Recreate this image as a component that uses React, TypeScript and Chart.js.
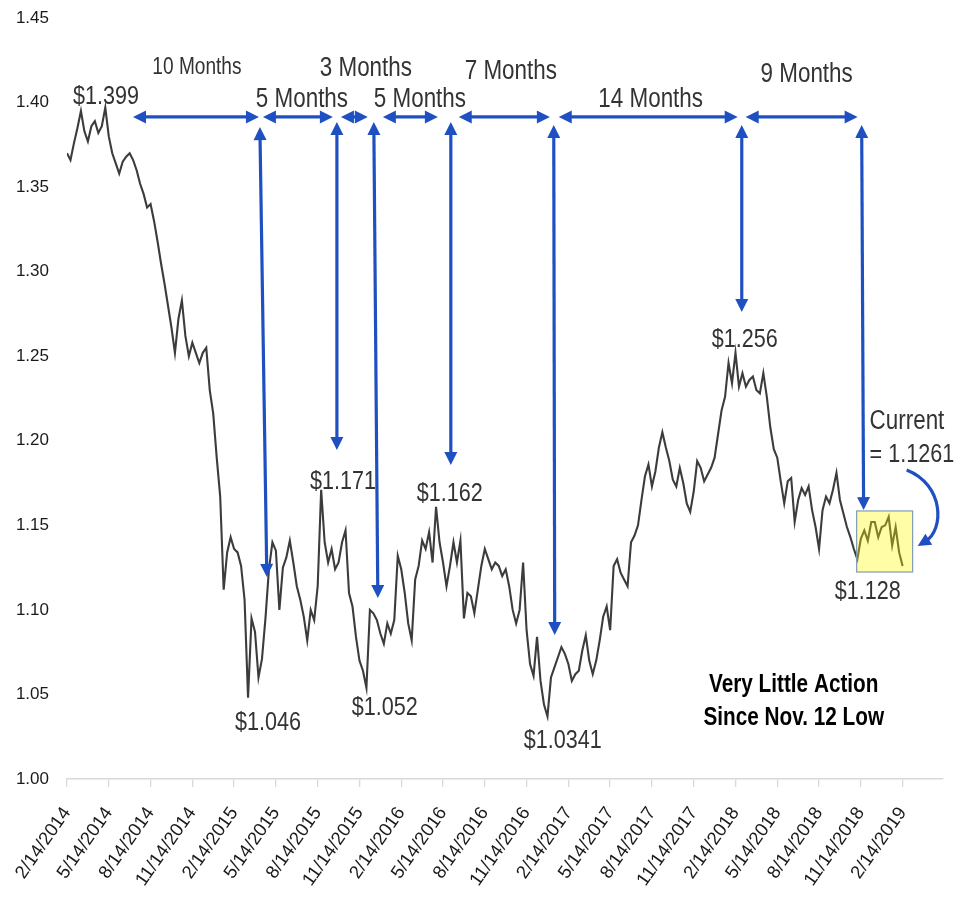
import { useEffect, useRef } from 'react';
import { Chart, registerables } from 'chart.js';

Chart.register(...registerables);

// X tick labels (every 3 months, starting 2/14/2014)
const tickLabels = [
  '2/14/2014', '5/14/2014', '8/14/2014', '11/14/2014',
  '2/14/2015', '5/14/2015', '8/14/2015', '11/14/2015',
  '2/14/2016', '5/14/2016', '8/14/2016', '11/14/2016',
  '2/14/2017', '5/14/2017', '8/14/2017', '11/14/2017',
  '2/14/2018', '5/14/2018', '8/14/2018', '11/14/2018',
  '2/14/2019',
];
const monthsPerTick = 3;
const samplesPerMonth = 4; // roughly weekly readings

// EUR/USD weekly readings from 2/14/2014 to 2/14/2019
const eurusd = [
  1.370, 1.366, 1.376, 1.385,
  1.395, 1.383, 1.377, 1.386,
  1.389, 1.382, 1.386, 1.397,
  1.380, 1.370, 1.364, 1.358,
  1.365, 1.368, 1.370, 1.366,
  1.360, 1.352, 1.346, 1.338,
  1.340, 1.330, 1.318, 1.305,
  1.293, 1.280, 1.267, 1.252,
  1.272, 1.283, 1.262, 1.250,
  1.258, 1.252, 1.246, 1.252,
  1.255, 1.230, 1.216, 1.190,
  1.167, 1.112, 1.134, 1.143,
  1.136, 1.134, 1.126, 1.106,
  1.048, 1.095, 1.087, 1.060,
  1.071, 1.095, 1.124, 1.140,
  1.135, 1.100, 1.125, 1.131,
  1.141, 1.128, 1.114, 1.106,
  1.096, 1.082, 1.100, 1.094,
  1.114, 1.171, 1.140, 1.128,
  1.136, 1.124, 1.128, 1.140,
  1.147, 1.110, 1.102, 1.084,
  1.070, 1.064, 1.054, 1.100,
  1.098, 1.094, 1.086, 1.080,
  1.092, 1.086, 1.094, 1.132,
  1.124, 1.110, 1.092, 1.082,
  1.118, 1.126, 1.141, 1.136,
  1.146, 1.128, 1.161, 1.140,
  1.128, 1.114, 1.126, 1.140,
  1.128, 1.141, 1.095, 1.110,
  1.108, 1.098, 1.112, 1.126,
  1.136, 1.130, 1.124, 1.128,
  1.126, 1.120, 1.124, 1.114,
  1.100, 1.092, 1.100, 1.128,
  1.088, 1.068, 1.061, 1.084,
  1.058, 1.044, 1.037, 1.060,
  1.066, 1.072, 1.078, 1.074,
  1.068, 1.058, 1.062, 1.064,
  1.076, 1.085, 1.070, 1.062,
  1.070, 1.082, 1.096, 1.102,
  1.088, 1.126, 1.130, 1.122,
  1.118, 1.114, 1.140, 1.144,
  1.150, 1.165, 1.179, 1.186,
  1.173, 1.182, 1.196, 1.205,
  1.196, 1.188, 1.177, 1.173,
  1.184, 1.175, 1.163, 1.158,
  1.170, 1.188, 1.184, 1.176,
  1.180, 1.184, 1.190, 1.204,
  1.218, 1.226, 1.246, 1.234,
  1.252, 1.232, 1.240, 1.232,
  1.236, 1.238, 1.230, 1.228,
  1.240, 1.226, 1.208, 1.195,
  1.190, 1.176, 1.163, 1.176,
  1.178, 1.152, 1.165, 1.172,
  1.168, 1.173, 1.159, 1.149,
  1.136, 1.159, 1.167, 1.163,
  1.171, 1.181, 1.165, 1.157,
  1.149, 1.143, 1.136, 1.130,
  1.142, 1.147, 1.141, 1.152,
  1.152, 1.143, 1.149, 1.150,
  1.155, 1.138, 1.149, 1.134,
  1.126,
];

const yTicks = [1.0, 1.05, 1.1, 1.15, 1.2, 1.25, 1.3, 1.35, 1.4, 1.45];

// ---- annotation layout (in data units: months since 2/14/2014, rate) ----
const blue = '#1f50c2';
const hArrowLevel = 1.3915;
const hArrows: [number, number][] = [
  [4.74, 13.78], [14.07, 19.09], [19.67, 21.6], [22.68, 26.63],
  [28.13, 34.67], [35.31, 48.16], [48.73, 56.77],
];
const vArrows: [number, number, number, number][] = [
  [13.85, 1.3855, 14.35, 1.1195],
  [19.38, 1.3885, 19.38, 1.1946],
  [22.03, 1.3885, 22.32, 1.107],
  [27.56, 1.3885, 27.56, 1.1857],
  [34.95, 1.3867, 35.02, 1.0852],
  [48.45, 1.3867, 48.45, 1.2762],
  [57.06, 1.3867, 57.2, 1.159],
];
type Lbl = { t: string; m: number; v: number; size: number; bold?: boolean; align?: CanvasTextAlign };
const labels: Lbl[] = [
  { t: '10 Months', m: 9.33, v: 1.4204, size: 23 },
  { t: '$1.399', m: 2.8, v: 1.4033, size: 26 },
  { t: '5 Months', m: 16.87, v: 1.4015, size: 27 },
  { t: '3 Months', m: 21.46, v: 1.4204, size: 27 },
  { t: '5 Months', m: 25.34, v: 1.4015, size: 27 },
  { t: '7 Months', m: 31.87, v: 1.4181, size: 27 },
  { t: '14 Months', m: 41.91, v: 1.4015, size: 27 },
  { t: '9 Months', m: 53.11, v: 1.4163, size: 27 },
  { t: '$1.256', m: 48.66, v: 1.2596, size: 26 },
  { t: '$1.171', m: 19.81, v: 1.1756, size: 26 },
  { t: '$1.162', m: 27.49, v: 1.1685, size: 26 },
  { t: '$1.046', m: 14.43, v: 1.0331, size: 26 },
  { t: '$1.052', m: 22.82, v: 1.042, size: 26 },
  { t: '$1.0341', m: 35.6, v: 1.0225, size: 26 },
  { t: '$1.128', m: 57.49, v: 1.1106, size: 26 },
  { t: 'Current', m: 57.63, v: 1.2111, size: 27, align: 'left' },
  { t: '= 1.1261', m: 57.63, v: 1.1916, size: 26, align: 'left' },
  { t: 'Very Little Action', m: 52.18, v: 1.0556, size: 25, bold: true },
  { t: 'Since Nov. 12 Low', m: 52.18, v: 1.0361, size: 25, bold: true },
];
const box = { m0: 56.7, m1: 60.72, v0: 1.1585, v1: 1.1224 };
const curve = { m0: 60.29, v0: 1.1827, c1m: 63.0, c1v: 1.1739, c2m: 63.0, c2v: 1.1473, m1: 61.08, v1: 1.1378 };

const textFont = '"Liberation Sans", Arial, sans-serif';
const condense = 0.83;

function head(ctx: CanvasRenderingContext2D, tx: number, ty: number, ang: number, len = 13, half = 6.5) {
  ctx.beginPath();
  ctx.moveTo(tx, ty);
  ctx.lineTo(tx - len * Math.cos(ang) + half * Math.sin(ang), ty - len * Math.sin(ang) - half * Math.cos(ang));
  ctx.lineTo(tx - len * Math.cos(ang) - half * Math.sin(ang), ty - len * Math.sin(ang) + half * Math.cos(ang));
  ctx.closePath();
  ctx.fill();
}

function dblArrow(ctx: CanvasRenderingContext2D, x1: number, y1: number, x2: number, y2: number) {
  const ang = Math.atan2(y2 - y1, x2 - x1);
  const len = 13;
  ctx.beginPath();
  ctx.moveTo(x1 + len * 0.8 * Math.cos(ang), y1 + len * 0.8 * Math.sin(ang));
  ctx.lineTo(x2 - len * 0.8 * Math.cos(ang), y2 - len * 0.8 * Math.sin(ang));
  ctx.stroke();
  head(ctx, x2, y2, ang, len);
  head(ctx, x1, y1, ang + Math.PI, len);
}

const annotPlugin = {
  id: 'annot',
  afterDatasetsDraw(chart: any) {
    const { ctx, scales } = chart;
    const X = (m: number) => scales.x.getPixelForValue(m);
    const Y = (v: number) => scales.y.getPixelForValue(v);
    ctx.save();
    // highlight box
    const bx = X(box.m0), by = Y(box.v0), bw = X(box.m1) - bx, bh = Y(box.v1) - by;
    ctx.fillStyle = 'rgba(255, 248, 0, 0.35)';
    ctx.fillRect(bx, by, bw, bh);
    ctx.strokeStyle = '#7d9bb8';
    ctx.lineWidth = 1.2;
    ctx.strokeRect(bx, by, bw, bh);

    ctx.strokeStyle = blue;
    ctx.fillStyle = blue;
    ctx.lineWidth = 3.2;
    ctx.lineCap = 'butt';
    const hy = Y(hArrowLevel);
    hArrows.forEach(([a, b]) => dblArrow(ctx, X(a), hy, X(b), hy));
    vArrows.forEach(([m0, v0, m1, v1]) => dblArrow(ctx, X(m0), Y(v0), X(m1), Y(v1)));

    // curved arrow
    const sx = X(curve.m0), sy = Y(curve.v0);
    const c1x = X(curve.c1m), c1y = Y(curve.c1v), c2x = X(curve.c2m), c2y = Y(curve.c2v);
    const ex = X(curve.m1), ey = Y(curve.v1);
    const ang = Math.atan2(ey - c2y, ex - c2x);
    ctx.beginPath();
    ctx.moveTo(sx, sy);
    ctx.bezierCurveTo(c1x, c1y, c2x, c2y, ex - 9 * Math.cos(ang), ey - 9 * Math.sin(ang));
    ctx.stroke();
    head(ctx, ex, ey, ang, 13, 6.5);

    // text (horizontally condensed, like a narrow face)
    ctx.textBaseline = 'middle';
    labels.forEach((l) => {
      ctx.save();
      ctx.font = `${l.bold ? 'bold ' : ''}${l.size}px ${textFont}`;
      ctx.fillStyle = l.bold ? '#000000' : '#333333';
      ctx.textAlign = l.align || 'center';
      ctx.translate(X(l.m), Y(l.v));
      ctx.scale(condense, 1);
      ctx.fillText(l.t, 0, 0);
      ctx.restore();
    });
    ctx.restore();
  },
};

export default function App() {
  const ref = useRef<HTMLCanvasElement | null>(null);
  useEffect(() => {
    if (!ref.current) return;
    const points = eurusd.map((v, i) => ({ x: i / samplesPerMonth, y: v }));
    const chart = new Chart(ref.current, {
      type: 'line',
      data: {
        datasets: [
          {
            label: 'EUR/USD',
            data: points,
            borderColor: '#3c3c3c',
            borderWidth: 2.1,
            pointRadius: 0,
            tension: 0,
            fill: false,
          },
        ],
      },
      options: {
        animation: false,
        responsive: true,
        maintainAspectRatio: false,
        layout: { padding: { top: 18, right: 13, left: 0, bottom: 0 } },
        plugins: { legend: { display: false }, tooltip: { enabled: false } },
        scales: {
          x: {
            type: 'linear',
            min: 0,
            max: 62.9,
            afterBuildTicks: (s: any) => {
              s.ticks = tickLabels.map((_, i) => ({ value: i * monthsPerTick }));
            },
            afterFit: (s: any) => {
              s.height = 124;
              s.paddingLeft = 0;
              s.paddingRight = 0;
            },
            ticks: {
              autoSkip: false,
              maxRotation: 55,
              minRotation: 55,
              padding: 16,
              color: '#1a1a1a',
              font: { family: '"Liberation Sans", Arial, sans-serif', size: 18.5 },
              callback: (_v: any, i: number) => tickLabels[i],
            },
            grid: { drawOnChartArea: false, drawTicks: true, tickLength: 8, color: '#d9d9d9', lineWidth: 1.3 },
            border: { display: true, color: '#d9d9d9', width: 1.5 },
          },
          y: {
            type: 'linear',
            min: 1.0,
            max: 1.45,
            afterBuildTicks: (s: any) => {
              s.ticks = yTicks.map((v) => ({ value: v }));
            },
            afterFit: (s: any) => {
              s.width = 67;
              s.paddingTop = 0;
              s.paddingBottom = 0;
            },
            ticks: {
              padding: 18,
              color: '#1a1a1a',
              font: { family: '"Liberation Sans", Arial, sans-serif', size: 17 },
              callback: (v: any) => Number(v).toFixed(2),
            },
            grid: { display: false, drawTicks: false },
            border: { display: false },
          },
        },
      },
      plugins: [annotPlugin],
    });
    return () => chart.destroy();
  }, []);
  return (
    <div style={{ position: 'fixed', left: 0, top: 0, width: 956, height: 903, background: '#fff' }}>
      <canvas ref={ref} />
    </div>
  );
}
